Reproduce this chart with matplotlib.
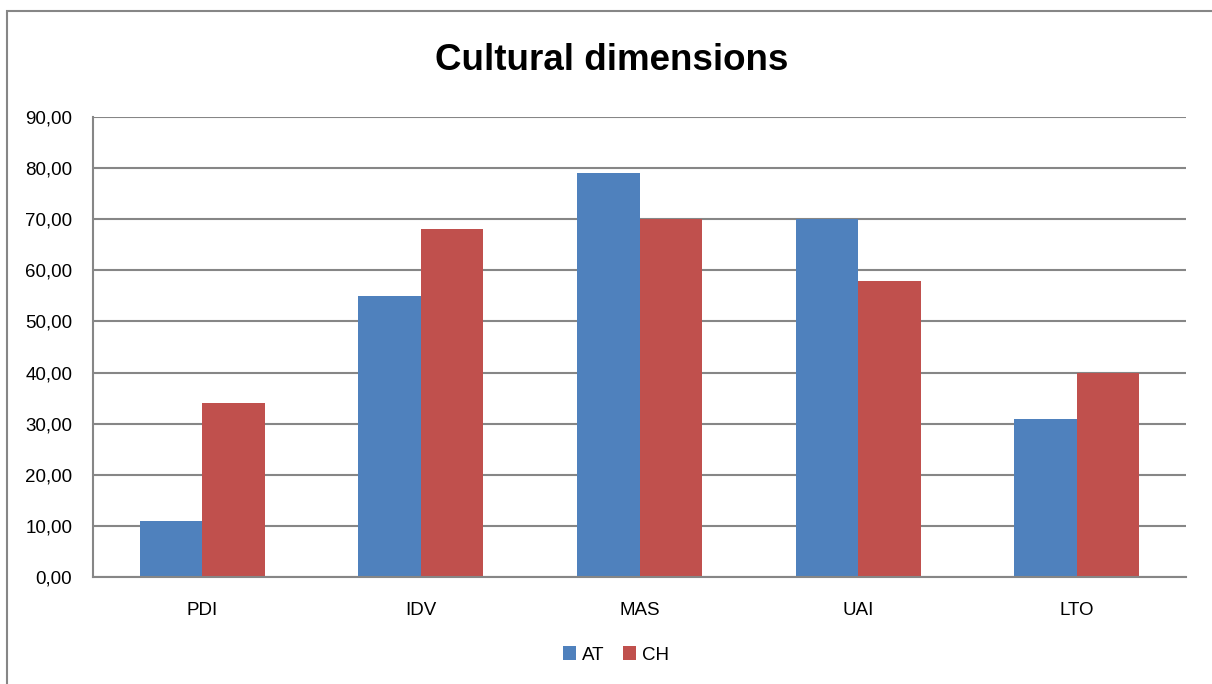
import matplotlib.pyplot as plt
import numpy as np
from matplotlib import patches

# Hofstede scores per dimension
DIMENSIONS = ['PDI', 'IDV', 'MAS', 'UAI', 'LTO']
AT_SCORES = [11, 55, 79, 70, 31]
CH_SCORES = [34, 68, 70, 58, 40]
Y_TICKS = list(range(0, 91, 10))

AT_COLOR = '#4F81BD'
CH_COLOR = '#C0504D'
GRID_COLOR = '#868686'

plt.rcParams['font.family'] = ['Liberation Sans', 'DejaVu Sans']

fig = plt.figure(figsize=(12.12, 6.84), dpi=100)
# thin frame around the chart area (left and top edges)
fig.add_artist(patches.Rectangle((7 / 1212, -0.1), 1.2, (684 - 11) / 684 + 0.1,
                                 transform=fig.transFigure, fill=False,
                                 edgecolor=GRID_COLOR, linewidth=1.5))

ax = fig.add_axes([93 / 1212, (684 - 577) / 684, (1186 - 93) / 1212,
                   (577 - 117) / 684])

x = np.arange(len(DIMENSIONS))
width = 1 / 3.5
ax.bar(x - width / 2, AT_SCORES, width, color=AT_COLOR, label='AT', zorder=3)
ax.bar(x + width / 2, CH_SCORES, width, color=CH_COLOR, label='CH', zorder=3)

ax.set_xlim(-0.5, len(DIMENSIONS) - 0.5)
ax.set_ylim(0, 90)
ax.set_yticks(Y_TICKS)
ax.set_yticklabels([f'{v:.2f}'.replace('.', ',') for v in Y_TICKS])
ax.set_xticks(x)
ax.set_xticklabels(DIMENSIONS)
ax.tick_params(axis='both', length=0, labelsize=13.5, colors='black')
ax.tick_params(axis='y', pad=15)
ax.tick_params(axis='x', pad=18)
ax.yaxis.grid(True, color=GRID_COLOR, linewidth=1.5, zorder=0)
for side in ['top', 'right']:
    ax.spines[side].set_visible(False)
for side in ['left', 'bottom']:
    ax.spines[side].set_color(GRID_COLOR)
    ax.spines[side].set_linewidth(1.5)
    ax.spines[side].set_zorder(4)

fig.text(612 / 1212, 1 - 60 / 684, 'Cultural dimensions', ha='center',
         va='center', fontsize=26.5, fontweight='bold')

fig.legend(loc='center', bbox_to_anchor=(616 / 1212, 1 - 655 / 684),
           ncol=2, frameon=False, fontsize=13.5, handlelength=0.7,
           handleheight=0.7, handletextpad=0.3, columnspacing=1.0)

fig.savefig('out.png', dpi=100)
